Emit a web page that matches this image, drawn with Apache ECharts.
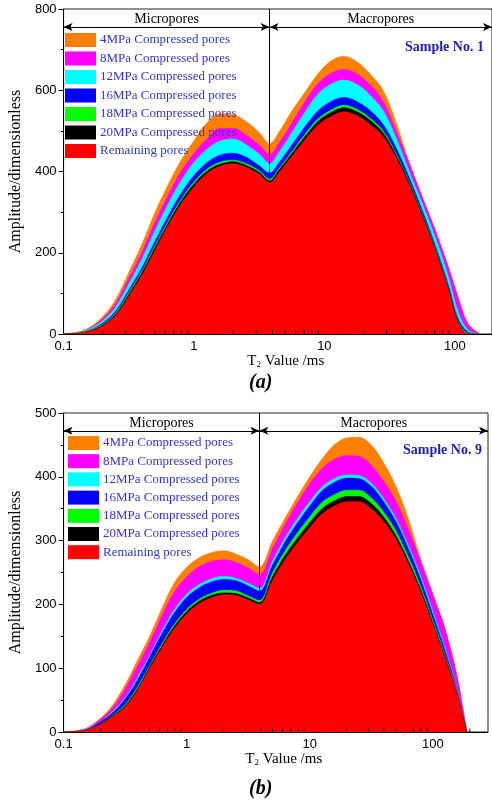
<!DOCTYPE html>
<html>
<head>
<meta charset="utf-8">
<script src="https://cdn.jsdelivr.net/npm/echarts@6/dist/echarts.min.js"></script>
<style>html,body{margin:0;padding:0;background:#fff}#c{width:492px;height:806px}</style>
</head>
<body>
<div id="c"></div>
<script>
// ---------- Data ----------
const seriesNames = ['4MPa Compressed pores','8MPa Compressed pores','12MPa Compressed pores','16MPa Compressed pores','18MPa Compressed pores','20MPa Compressed pores','Remaining pores'];
const xTickLabels = ['0.1','1','10','100'];
const minorTicks = [0.2,0.3,0.4,0.5,0.6,0.7,0.8,0.9,2,3,4,5,6,7,8,9,20,30,40,50,60,70,80,90,200];

// Sample No. 1 (a): upper boundary of each layer
const xA = [0.1,0.13,0.16,0.2,0.25,0.32,0.4,0.5,0.63,0.79,1.0,1.26,1.58,2.0,2.51,3.16,3.8,4.5,5.6,7.1,8.9,11.2,14.1,17.8,22.4,28.2,35.5,44.7,56.2,70.8,89.1,106,126,155];
const a4  = [0,5,17,43,84,155,222,298,366,426,476,520,542,540,523,496,469, 498,548,595,640,672,684,670,640,600,520,422,338,256,166,90,25,0];
const a8  = [0,4,15,38,75,140,202,273,340,398,445,480,506,506,490,465,442, 470,518,572,616,641,651,640,613,573,500,420,337,255,165,90,25,0];
const a12 = [0,4,13,33,66,126,185,253,318,375,423,455,475,480,466,443,420, 448,494,546,590,615,625,614,588,550,482,400,322,238,142,55,10,0];
const a16 = [0,3,10,27,56,111,164,227,289,344,390,422,440,445,435,414,396, 422,464,510,549,572,582,572,550,516,458,385,305,218,122,38,5,0];
const a18 = [0,3,9,24,51,104,155,216,276,330,374,406,423,428,419,402,381, 408,448,492,529,551,563,553,531,500,444,375,297,211,115,33,2,0];
const a20 = [0,2,8,22,48,100,151,211,271,325,369,401,418,424,415,398,377, 404,443,486,523,545,557,547,526,495,440,372,294,208,113,31,0,0];
const aRemain = [0,2,7,20,45,95,145,205,265,318,362,395,413,419,410,393,372, 398,436,478,514,535,547,537,516,486,433,367,290,205,110,28,0,0];

// Sample No. 9 (b)
const xB = [0.1,0.13,0.16,0.2,0.25,0.32,0.4,0.5,0.63,0.79,1.0,1.26,1.58,2.0,2.51,3.16,3.9,5.0,6.3,7.9,10,12.6,15.8,20,25.1,31.6,39.8,50.1,63.1,79.4,100,126,158,189];
const b4  = [0,2,8,22,42,76,113,150,194,233,258,273,281,284,279,270,259, 300,335,368,400,428,450,461,462,450,422,385,335,272,217,162,86,0];
const b8  = [0,2,7,20,38,69,104,140,182,219,243,259,267,270,266,257,247, 288,325,358,389,413,427,433,432,418,393,362,318,268,215,160,85,0];
const b12 = [0,1,6,16,32,55,86,120,158,191,216,231,240,244,241,233,225, 268,304,334,361,384,397,403,402,390,366,335,293,245,189,131,66,0];
const b16 = [0,1,5,16,30,53,82,117,154,186,211,226,235,239,237,229,221, 262,298,327,354,378,391,398,397,385,361,330,288,240,184,127,64,0];
const b18 = [0,1,4,13,26,44,71,104,138,168,192,208,217,222,221,213,206, 250,284,312,337,360,372,379,379,367,345,315,275,229,175,120,61,0];
const b20 = [0,1,4,13,25,42,68,102,135,165,189,205,214,218,217,210,203, 244,277,303,328,350,362,369,369,358,337,308,269,224,171,117,59,0];
const bRemain = [0,1,4,12,24,40,66,99,132,161,185,201,210,215,214,207,200, 238,270,296,320,342,354,361,361,350,330,302,264,220,168,115,58,0];

const dividerA = 3.8, dividerB = 3.9;
const arrowYA = 756, arrowYB = 472;
const xMaxA = 193, xMaxB = 281;
const yMaxA = 800, yMaxB = 500;

// ---------- Styling ----------
const colors = ['#ff8000','#ff00ff','#00ffff','#0000ff','#00ff00','#000000','#ff0000'];
const layersA = [a4,a8,a12,a16,a18,a20,aRemain];
const layersB = [b4,b8,b12,b16,b18,b20,bRemain];
const SERIF = 'Liberation Serif';
const SANS = 'Liberation Sans';

function xAxisCfg(idx, max) {
  return {
    type: 'log', logBase: 10, gridIndex: idx, min: 0.1, max: max,
    name: 'T{s|2} Value /ms', nameLocation: 'middle', nameGap: idx === 0 ? 19 : 17,
    nameTextStyle: {fontFamily: SERIF, fontSize: 15, color: '#000', padding: [0,0,0,16],
      rich: {s: {fontFamily: SERIF, fontSize: 9, color: '#000', padding: [7,0,0,0]}}},
    axisLine: {show: true, lineStyle: {color: '#000', width: 1}},
    axisTick: {show: true, inside: true, length: 6, lineStyle: {color: '#000'}},
    minorTick: {show: false},
    splitLine: {show: false},
    axisLabel: {fontFamily: SANS, fontSize: 13, color: '#000', margin: 6, showMaxLabel: false,
      formatter: v => { const s = xTickLabels.find(t => Math.abs(parseFloat(t) - v) < 1e-6 * Math.max(1, v)); return s || ''; }}
  };
}
function yAxisCfg(idx, max, interval) {
  return {
    type: 'value', gridIndex: idx, min: 0, max: max, interval: interval,
    name: 'Amplitude/dimensionless', nameLocation: 'middle', nameRotate: 90, nameGap: idx === 0 ? 27 : 29,
    nameTextStyle: {fontFamily: SERIF, fontSize: 16, color: '#000'},
    axisLine: {show: true, lineStyle: {color: '#000', width: 1}},
    axisTick: {show: true, inside: false, length: 5, lineStyle: {color: '#000'}},
    minorTick: {show: true, splitNumber: 2, length: 3, lineStyle: {color: '#000'}},
    splitLine: {show: false},
    axisLabel: {fontFamily: SANS, fontSize: 13, color: '#000', margin: 7}
  };
}
function legendCfg(top, left, gap) {
  return {
    orient: 'vertical', left: left, top: top, padding: 0, itemGap: gap,
    itemWidth: 31, itemHeight: 14, icon: 'rect',
    data: seriesNames,
    textStyle: {fontFamily: SERIF, fontSize: 13, color: '#3535c8', padding: [0,0,0,-1]}
  };
}

const series = [];
[[xA, layersA, dividerA, arrowYA, xMaxA], [xB, layersB, dividerB, arrowYB, xMaxB]].forEach(([xs, layers, div, ay, xmax], gi) => {
  layers.forEach((vals, li) => {
    const s = {
      type: 'line', name: seriesNames[li], xAxisIndex: gi, yAxisIndex: gi,
      data: xs.map((x, i) => [x, vals[i]]),
      showSymbol: false, symbol: 'none', smooth: 0.35,
      color: colors[li],
      lineStyle: {width: 0.6, color: colors[li]},
      areaStyle: {color: colors[li], opacity: 1},
      z: 2 + li, silent: true, animation: false
    };
    if (li === layers.length - 1) {
      const lbl = (txt) => ({show: true, position: 'insideMiddleTop', formatter: txt, distance: 1,
        fontFamily: SERIF, fontSize: 14, color: '#000'});
      s.markLine = {
        silent: true, animation: false,
        data: [
          [{xAxis: div, yAxis: 0, symbol: 'none'}, {xAxis: div, yAxis: gi === 0 ? yMaxA : yMaxB, symbol: 'none'}],
          [{coord: [0.1, ay], symbol: 'arrow', symbolSize: [6, 9], label: lbl('Micropores')}, {coord: [div, ay], symbol: 'arrow', symbolSize: [6, 9]}],
          [{coord: [div, ay], symbol: 'arrow', symbolSize: [6, 9], label: lbl('Macropores')}, {coord: [xmax, ay], symbol: 'arrow', symbolSize: [6, 9]}]
        ],
        lineStyle: {color: '#000', width: 1, type: 'solid'},
        label: {show: false}
      };
    }
    series.push(s);
  });
  // minor log ticks drawn through the axis scale
  series.push({
    type: 'custom', xAxisIndex: gi, yAxisIndex: gi, silent: true, z: 20, animation: false,
    data: minorTicks.filter(v => v < xmax).map(v => [v, 0]),
    renderItem: (params, api) => {
      const p = api.coord([api.value(0), 0]);
      return {type: 'line', shape: {x1: p[0], y1: p[1], x2: p[0], y2: p[1] - 3.5}, style: {stroke: '#000', lineWidth: 1}};
    }
  });
});

const option = {
  animation: false,
  backgroundColor: '#fff',
  grid: [
    {left: 55, top: 9, width: 438, height: 325, show: true, borderColor: '#222', borderWidth: 1, containLabel: false},
    {left: 58, top: 413, width: 430, height: 319, show: true, borderColor: '#222', borderWidth: 1, containLabel: false}
  ],
  xAxis: [xAxisCfg(0, xMaxA), xAxisCfg(1, xMaxB)],
  yAxis: [yAxisCfg(0, yMaxA, 200), yAxisCfg(1, yMaxB, 100)],
  legend: [legendCfg(33, 65, 4.5), legendCfg(436, 68, 4.2)],
  title: [
    {text: 'Sample No. 1', left: 405, top: 40, padding: 0, textStyle: {fontFamily: SERIF, fontWeight: 'bold', fontSize: 14, color: '#2020b8'}},
    {text: 'Sample No. 9', left: 403, top: 443, padding: 0, textStyle: {fontFamily: SERIF, fontWeight: 'bold', fontSize: 14, color: '#2020b8'}},
    {text: '(a)', left: 249, top: 373, padding: 0, textStyle: {fontFamily: SERIF, fontWeight: 'bold', fontStyle: 'italic', fontSize: 20, color: '#000'}},
    {text: '(b)', left: 249, top: 779, padding: 0, textStyle: {fontFamily: SERIF, fontWeight: 'bold', fontStyle: 'italic', fontSize: 20, color: '#000'}}
  ],
  series: series
};
const chart = echarts.init(document.getElementById('c'), null, {renderer: 'canvas'});
chart.setOption(option);
</script>
</body>
</html>
